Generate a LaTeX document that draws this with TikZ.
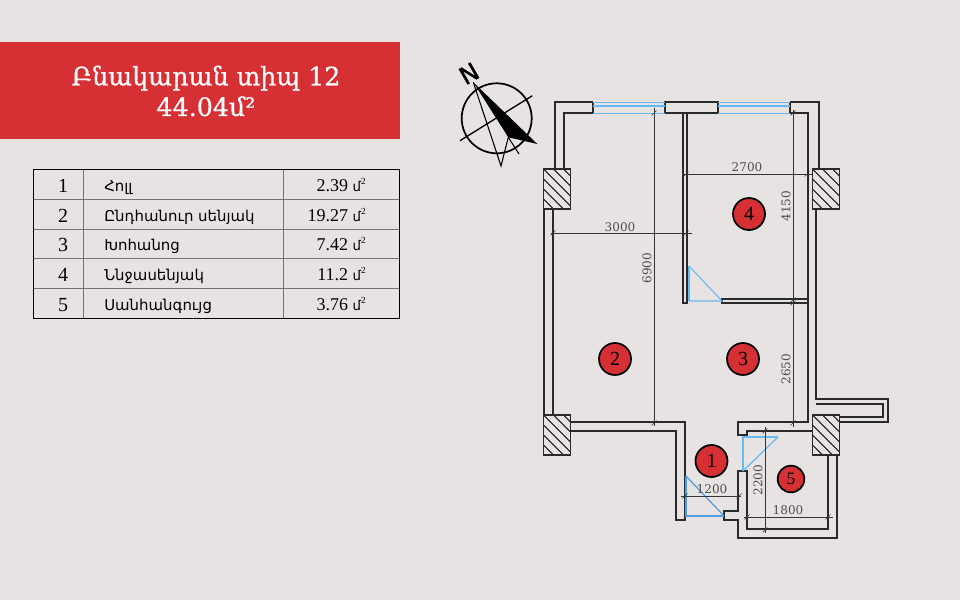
\documentclass[tikz,border=0pt]{standalone}
\usepackage{fontspec}
\setmainfont{Liberation Serif}
\newfontfamily\armserif{DejaVu Serif}
\newfontfamily\armtitulo[FakeBold=0.6]{DejaVu Serif}
\newfontfamily\armsans{DejaVu Sans}
\newfontfamily\letranorte[FakeBold=1.5]{DejaVu Sans}
\definecolor{fondo}{HTML}{E8E3E3}
\definecolor{rojo}{HTML}{D63035}
\definecolor{celeste}{HTML}{66B8F2}
\definecolor{azul}{HTML}{4C9BE6}
\definecolor{muro}{HTML}{2A2A2A}
\newcommand{\pilar}[2]{
	\fill [fondo] (#1,#2) rectangle ++(27,40);
	\begin{scope}
		\clip (#1,#2) rectangle ++(27,40);
		\foreach \d in {-40,-30,...,27}
			\draw [black, line width=0.6pt] (#1+\d,#2) --++ (40,40);
	\end{scope}
	\draw [muro, line width=0.9pt] (#1,#2) rectangle ++(27,40);
}
\newcommand{\marca}[2]{
	\draw [cota] (#1-2.5,#2+2.5) --++ (5,-5);
}
\tikzset{
	pared/.style={muro, line width=0.8pt},
	cota/.style={black!80, line width=0.5pt},
	numcota/.style={text=black!70, font=\armserif\fontsize{9}{9}\selectfont, inner sep=0pt},
	sitio/.style={circle, draw=black, fill=rojo, line width=1.3pt, minimum size=24pt, inner sep=0pt, font=\fontsize{15}{15}\selectfont},
	num/.style={font=\fontsize{15}{15}\selectfont, inner sep=0pt},
	cuarto/.style={anchor=base west, font=\armsans\fontsize{11.2}{11.2}\selectfont, inner sep=0pt},
	area/.style={anchor=base east, font=\fontsize{13.5}{13.5}\selectfont, inner sep=0pt}
}
\begin{document}
\begin{tikzpicture}[x=0.75pt,y=-0.75pt]
	\fill [fondo] (0,0) rectangle (960,600);
	\useasboundingbox (0,0) rectangle (960,600);
% TITULO
	\fill [rojo] (0,42) rectangle (400,139);
	\node [text=white, align=center, inner sep=0pt, font=\armtitulo\fontsize{19}{23}\selectfont] (titulo) at (206,91) {Բնակարան տիպ 12\\44.04մ²};
% TABLA
	\draw [black!55, line width=0.5pt] (83,169) -- (83,318) (283,169) -- (283,318);
	\foreach \y in {199,229,258,288}
		\draw [black!55, line width=0.5pt] (33.5,\y) -- (399.5,\y);
	\draw [black, line width=0.7pt] (33.5,169.5) rectangle (399.5,318);
	\foreach \n/\y/\cuarto/\area in {1/192/Հոլլ/2.39,2/222/Ընդհանուր սենյակ/19.27,3/251/Խոհանոց/7.42,4/281/Ննջասենյակ/11.2,5/311/Սանհանգույց/3.76}{
		\node [num, anchor=base] (n\n) at (63,\y) {\n};
		\node [cuarto] (c\n) at (104,\y-1) {\cuarto};
		\node [area] (a\n) at (366,\y-1) {\area{} {\armsans\fontsize{10}{10}\selectfont մ}\raisebox{5pt}{\fontsize{7}{7}\selectfont 2}};
	}
% BRUJULA
	\draw [black, line width=1.3pt] (496.7,118.3) circle (35);
	\draw [black, line width=1pt] (460,140.7) -- (532.3,95.7);
	\fill [black] (473.3,82.3) -- (537.3,144) -- (508.3,137.3) -- cycle;
	\draw [black, line width=0.8pt] (473.3,82.3) -- (501,166) -- (508.3,137.3);
	\draw [black, line width=0.8pt] (508.3,137.3) -- (519,154);
	\node [rotate=30, inner sep=0pt, font=\letranorte\fontsize{18}{18}\selectfont] (norte) at (469,73.5) {N};
% MUROS
	\draw [pared] (593,102) -- (555,102) -- (555,169);
	\draw [pared] (593,113) -- (564,113) -- (564,169);
	\draw [pared] (544,209) -- (544,415);
	\draw [pared] (553,209) -- (553,415);
	\draw [pared] (665,102) rectangle (718,113);
	\draw [pared] (790,102) -- (819,102) -- (819,169);
	\draw [pared] (790,113) -- (808,113) -- (808,422) -- (738,422) -- (738,435) -- (747,435) -- (747,431) -- (812,431);
	\draw [pared] (816,209) -- (816,399) -- (888,399) -- (888,422) -- (816,422);
	\draw [pared] (816,404) -- (883,404) -- (883,417) -- (816,417);
	\draw [pared] (570,422) -- (685,422) -- (685,520) -- (676,520) -- (676,431) -- (570,431);
	\draw [pared] (828,455) -- (828,529) -- (747,529) -- (747,471) -- (738,471) -- (738,511) -- (724,511) -- (724,520) -- (738,520) -- (738,538) -- (837,538) -- (837,455);
	\draw [pared] (683,113) rectangle (687,303);
	\draw [pared] (808,299) -- (722,299) -- (722,303) -- (808,303);
	\draw [pared] (593,102) -- (593,113) (665,102) -- (665,113) (718,102) -- (718,113) (790,102) -- (790,113);
	\pilar{543.5}{169}
	\pilar{812.5}{169}
	\pilar{543.5}{415}
	\pilar{812.5}{415}
% VENTANAS
	\foreach \xa/\xb in {593/665,718/790}{
		\draw [celeste, line width=0.7pt] (\xa,102) -- (\xb,102);
		\draw [celeste, line width=1.2pt] (\xa,106) -- (\xb,106);
		\draw [celeste, line width=0.7pt] (\xa,113) -- (\xb,113);
	}
% PUERTAS
	\draw [celeste, line width=2pt] (689,266) -- (689,301);
	\draw [celeste, line width=0.8pt] (689,266) -- (722,301) -- (689,301);
	\draw [celeste, line width=1.6pt] (778,437) -- (743,437) -- (743,471);
	\draw [celeste, line width=0.9pt] (743,471) -- (778,437);
	\draw [azul, line width=1.6pt] (686,476) -- (686,516) -- (724,516);
	\draw [azul, line width=0.9pt] (686,476) -- (724,516);
% COTAS
	\draw [cota] (551,233) -- (692,233);
	\marca{553}{233}
	\marca{686}{233}
	\node [numcota] (c3000) at (620,227) {3000};
	\draw [cota] (654,108) -- (654,426);
	\marca{654}{113}
	\marca{654}{423}
	\node [numcota, rotate=90] (c6900) at (647,268) {6900};
	\draw [cota] (683,174) -- (812,174);
	\marca{686}{174}
	\marca{807}{174}
	\node [numcota] (c2700) at (747,167.5) {2700};
	\draw [cota] (793,110) -- (793,427);
	\marca{793}{113}
	\marca{793}{300}
	\marca{793}{303}
	\marca{793}{423}
	\node [numcota, rotate=90] (c4150) at (786,206) {4150};
	\node [numcota, rotate=90] (c2650) at (786,369) {2650};
	\draw [cota] (681,496) -- (741,496);
	\marca{685}{496}
	\marca{739}{496}
	\node [numcota] (c1200) at (712,489.5) {1200};
	\draw [cota] (765,427) -- (765,533);
	\marca{765}{431}
	\marca{765}{530}
	\node [numcota, rotate=90] (c2200) at (758,480) {2200};
	\draw [cota] (744,517) -- (833,517);
	\marca{747}{517}
	\marca{828}{517}
	\node [numcota] (c1800) at (788,510) {1800};
% CUARTOS
	\node [sitio] (s1) at (711.5,461) {1};
	\node [sitio] (s2) at (615,359) {2};
	\node [sitio] (s3) at (743,359) {3};
	\node [sitio] (s4) at (749,214) {4};
	\node [sitio, minimum size=20pt, font=\fontsize{13}{13}\selectfont] (s5) at (791,479) {5};
\end{tikzpicture}
\end{document}
